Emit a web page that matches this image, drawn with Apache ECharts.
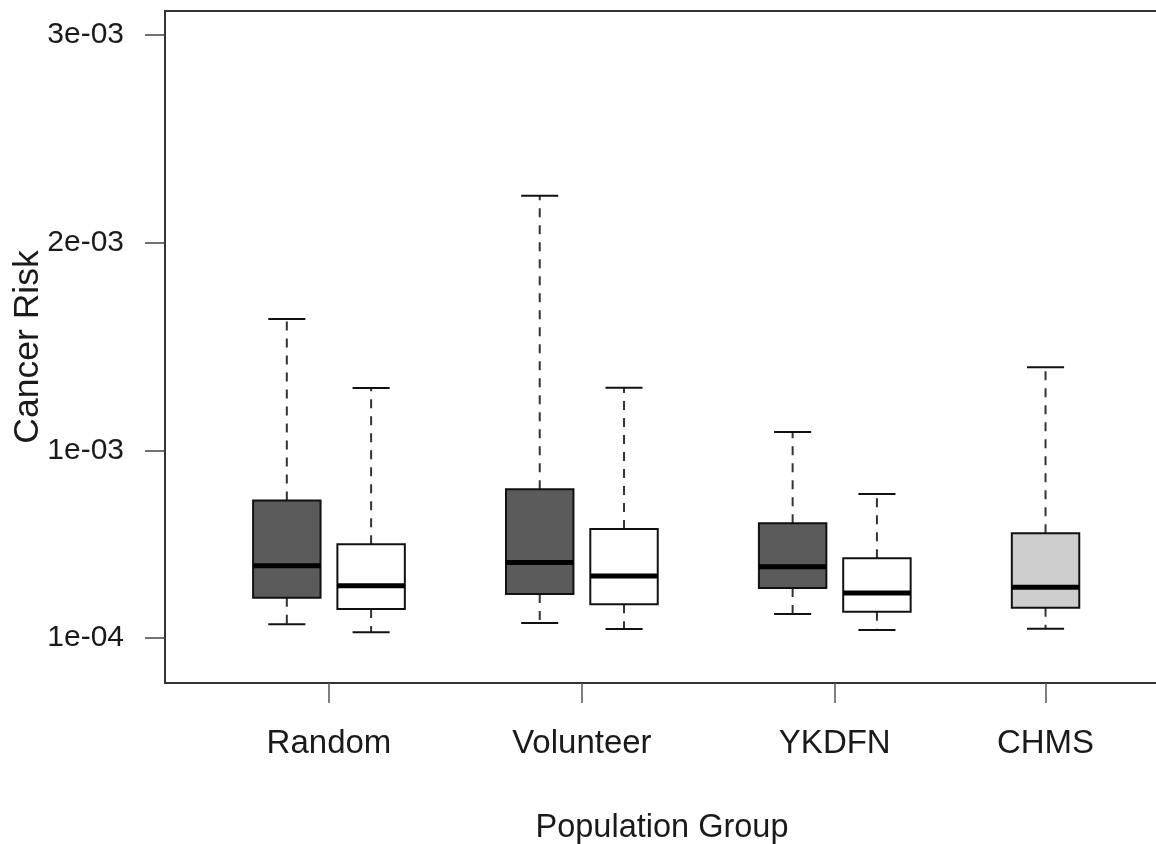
<!DOCTYPE html>
<html>
<head>
<meta charset="utf-8">
<title>Cancer Risk by Population Group</title>
<script src="https://cdn.jsdelivr.net/npm/echarts@6/dist/echarts.min.js"></script>
<style>
  html, body { margin: 0; padding: 0; background: #ffffff; }
  #chart { width: 1156px; height: 844px; }
</style>
</head>
<body>
<div id="chart"></div>
<script>
// Population groups shown on the x axis
const categories = ['Random', 'Volunteer', 'YKDFN', 'CHMS'];

// One entry per box: which group it belongs to and which sub-box it is
const boxGroup = [0, 0, 1, 1, 2, 2, 3];
const boxKind  = [0, 1, 0, 1, 0, 1, 2];

// Five-number summaries per box: [lower whisker, Q1, median, Q3, upper whisker]
const randomA    = [1.65e-4, 2.93e-4, 4.47e-4, 7.60e-4, 1.633e-3];
const randomB    = [1.27e-4, 2.39e-4, 3.50e-4, 5.50e-4, 1.301e-3];
const volunteerA = [1.72e-4, 3.11e-4, 4.62e-4, 8.14e-4, 2.226e-3];
const volunteerB = [1.43e-4, 2.62e-4, 3.98e-4, 6.24e-4, 1.303e-3];
const ykdfnA     = [2.15e-4, 3.40e-4, 4.42e-4, 6.51e-4, 1.090e-3];
const ykdfnB     = [1.38e-4, 2.26e-4, 3.16e-4, 4.83e-4, 7.92e-4];
const chms       = [1.44e-4, 2.45e-4, 3.43e-4, 6.03e-4, 1.401e-3];
const boxStats = [randomA, randomB, volunteerA, volunteerB, ykdfnA, ykdfnB, chms];

// Y axis tick values and their printed labels
const yTickValues = [1e-4, 1e-3, 2e-3, 3e-3];
const yTickLabels = ['1e-04', '1e-03', '2e-03', '3e-03'];

// Fill colour per box kind
const kindFill = ['#5b5b5b', '#ffffff', '#cdcdcd'];

// Slot layout: each group takes three slots (two boxes and a gap)
const slotOf = [];
const seen = {};
boxGroup.forEach(function (g, i) {
  const sub = seen[g] || 0;
  seen[g] = sub + 1;
  slotOf.push(g * 3 + sub + 1);
});
const groupCenters = categories.map(function (_, g) {
  const s = slotOf.filter(function (_, i) { return boxGroup[i] === g; });
  return s.reduce(function (a, b) { return a + b; }, 0) / s.length;
});

const boxData = boxStats.map(function (st, i) {
  return [slotOf[i]].concat(st).concat([boxKind[i]]);
});

const chart = echarts.init(document.getElementById('chart'), null, { renderer: 'canvas' });

const FONT = 'Liberation Sans, Arial, Helvetica, sans-serif';
const BOX_W = 0.8;
const CAP_W = 0.44;

function renderBox(params, api) {
  const x = api.value(0);
  const lo = api.coord([x, api.value(1)]);
  const q1 = api.coord([x, api.value(2)]);
  const md = api.coord([x, api.value(3)]);
  const q3 = api.coord([x, api.value(4)]);
  const hi = api.coord([x, api.value(5)]);
  const kind = api.value(6);
  const bw = api.size([BOX_W, 0])[0];
  const cw = api.size([CAP_W, 0])[0];
  const cx = lo[0];
  const dash = { stroke: '#333333', lineWidth: 2, lineDash: [9, 8] };
  const solid = { stroke: '#111111', lineWidth: 2 };
  return {
    type: 'group',
    children: [
      { type: 'line', shape: { x1: cx, y1: q3[1], x2: cx, y2: hi[1] }, style: dash },
      { type: 'line', shape: { x1: cx, y1: q1[1], x2: cx, y2: lo[1] }, style: dash },
      {
        type: 'rect',
        shape: { x: cx - bw / 2, y: q3[1], width: bw, height: q1[1] - q3[1] },
        style: { fill: kindFill[kind], stroke: '#111111', lineWidth: 2 }
      },
      { type: 'line', shape: { x1: cx - bw / 2, y1: md[1], x2: cx + bw / 2, y2: md[1] },
        style: { stroke: '#000000', lineWidth: 5 } },
      { type: 'line', shape: { x1: cx - cw / 2, y1: hi[1], x2: cx + cw / 2, y2: hi[1] }, style: solid },
      { type: 'line', shape: { x1: cx - cw / 2, y1: lo[1], x2: cx + cw / 2, y2: lo[1] }, style: solid }
    ]
  };
}

chart.setOption({
  animation: false,
  backgroundColor: '#ffffff',
  grid: {
    left: 165, top: 11, right: -3, bottom: 161,
    containLabel: false,
    outerBoundsMode: 'none',
    show: true, borderColor: '#333333', borderWidth: 2, backgroundColor: 'transparent'
  },
  xAxis: {
    type: 'value',
    min: -0.445,
    max: 11.346,
    name: 'Population Group',
    nameLocation: 'middle',
    nameGap: 129,
    nameMoveOverlap: false,
    nameTextStyle: { fontFamily: FONT, fontSize: 32.5, color: '#1a1a1a', lineHeight: 33 },
    axisLine: { show: false, onZero: false },
    splitLine: { show: false },
    axisTick: {
      show: true, length: 20, inside: false, customValues: groupCenters,
      lineStyle: { color: '#555555', width: 1.5 }
    },
    axisLabel: {
      show: true, customValues: groupCenters, margin: 44,
      fontFamily: FONT, fontSize: 33, color: '#1a1a1a', lineHeight: 33,
      formatter: function (v) {
        const i = groupCenters.findIndex(function (c) { return Math.abs(c - v) < 1e-6; });
        return i >= 0 ? categories[i] : '';
      }
    }
  },
  yAxis: {
    type: 'value',
    min: -1.17e-4,
    max: 3.114e-3,
    name: 'Cancer Risk',
    nameLocation: 'middle',
    nameGap: 119,
    nameMoveOverlap: false,
    nameTextStyle: { fontFamily: FONT, fontSize: 35.5, color: '#1a1a1a', lineHeight: 35 },
    axisLine: { show: false, onZero: false },
    splitLine: { show: false },
    axisTick: {
      show: true, length: 20, inside: false, customValues: yTickValues,
      lineStyle: { color: '#444444', width: 1.5 }
    },
    axisLabel: {
      show: true, customValues: yTickValues, margin: 41,
      fontFamily: FONT, fontSize: 30, color: '#1a1a1a',
      formatter: function (v) {
        const i = yTickValues.findIndex(function (t) { return Math.abs(t - v) < 1e-9; });
        return i >= 0 ? yTickLabels[i] : '';
      }
    }
  },
  series: [{
    type: 'custom',
    renderItem: renderBox,
    encode: { x: 0, y: [1, 2, 3, 4, 5] },
    data: boxData,
    clip: false,
    z: 3
  }]
});
</script>
</body>
</html>
